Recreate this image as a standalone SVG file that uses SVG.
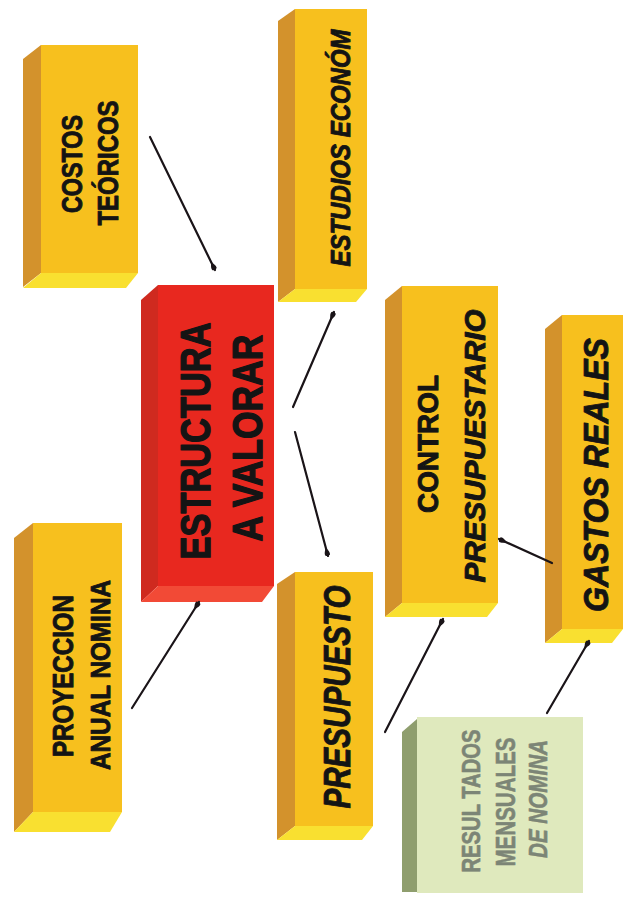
<svg xmlns="http://www.w3.org/2000/svg" width="635" height="904" viewBox="0 0 635 904">
  <defs>
    <style>
      .front-y { fill: #f7c01e; }
      .side-y { fill: #d3922c; }
      .base-y { fill: #f9e030; }
      .front-r { fill: #e8281f; }
      .side-r { fill: #cf2a1f; }
      .base-r { fill: #f24a36; }
      .front-g { fill: #dfe9bd; }
      .side-g { fill: #8f9e6e; }
      .lbl { font-family: "Liberation Sans", Arial, sans-serif; font-weight: bold; fill: #141414; stroke: #141414; stroke-width: 0.9; stroke-linejoin: round; text-anchor: middle; }
      .big { stroke-width: 1.3; }
      .it { font-style: italic; }
      .lbl-g { fill: #7c8576; stroke: #7c8576; stroke-width: 0.6; }
      .link { stroke: #1a1418; stroke-width: 2.2; fill: none; stroke-linecap: round; marker-end: url(#head); }
    </style>
    <marker id="head" viewBox="0 0 10 8" refX="9.5" refY="4" markerWidth="4.5" markerHeight="3.6" orient="auto" markerUnits="strokeWidth">
      <path d="M0,4 C3,3.2 5.5,0.6 8.5,1.6 Q10.3,4 8.5,6.4 C5.5,7.4 3,4.8 0,4 z" fill="#1a1418"/>
    </marker>
  </defs>

  <rect width="635" height="904" fill="#ffffff"/>

  <!-- COSTOS TEÓRICOS -->
  <g id="costos-teoricos">
    <polygon class="side-y" points="41,45 23,59 23,287 41,273"/>
    <polygon class="base-y" points="41,273 138,273 126,288 23,288"/>
    <rect class="front-y" x="41" y="45" width="97" height="228"/>
    <text class="lbl" font-size="30" textLength="98" lengthAdjust="spacingAndGlyphs" transform="translate(82,164) rotate(-90)">COSTOS</text>
    <text class="lbl" font-size="30" textLength="125" lengthAdjust="spacingAndGlyphs" transform="translate(118,163) rotate(-90)">TEÓRICOS</text>
  </g>

  <!-- ESTRUCTURA A VALORAR -->
  <g id="estructura-a-valorar">
    <polygon class="side-r" points="158,285 141,300 141,602 158,586"/>
    <polygon class="base-r" points="158,586 274,586 262,602 141,602"/>
    <rect class="front-r" x="158" y="285" width="116" height="301"/>
    <text class="lbl big" font-size="42" textLength="237" lengthAdjust="spacingAndGlyphs" transform="translate(210,441) rotate(-90)">ESTRUCTURA</text>
    <text class="lbl big" font-size="42" textLength="207" lengthAdjust="spacingAndGlyphs" transform="translate(262,438) rotate(-90)">A VALORAR</text>
  </g>

  <!-- ESTUDIOS ECONÓM -->
  <g id="estudios-econom">
    <polygon class="side-y" points="295,9 278,21 278,302 295,289"/>
    <polygon class="base-y" points="295,289 367,289 356,302 278,302"/>
    <rect class="front-y" x="295" y="9" width="72" height="280"/>
    <text class="lbl it" font-size="28" textLength="237" lengthAdjust="spacingAndGlyphs" transform="translate(350,148) rotate(-90)">ESTUDIOS ECONÓM</text>
  </g>

  <!-- CONTROL PRESUPUESTARIO -->
  <g id="control-presupuestario">
    <polygon class="side-y" points="402,286 385,300 385,617 402,603"/>
    <polygon class="base-y" points="402,603 498,603 487,617 385,617"/>
    <rect class="front-y" x="402" y="286" width="96" height="317"/>
    <text class="lbl" font-size="29" textLength="138" lengthAdjust="spacingAndGlyphs" transform="translate(438,444) rotate(-90)">CONTROL</text>
    <text class="lbl it" font-size="30" textLength="273" lengthAdjust="spacingAndGlyphs" transform="translate(485,446) rotate(-90)">PRESUPUESTARIO</text>
  </g>

  <!-- GASTOS REALES -->
  <g id="gastos-reales">
    <polygon class="side-y" points="562,315 545,329 545,643 562,629"/>
    <polygon class="base-y" points="562,629 623,629 612,643 545,643"/>
    <rect class="front-y" x="562" y="315" width="61" height="314"/>
    <text class="lbl it" font-size="35" textLength="274" lengthAdjust="spacingAndGlyphs" transform="translate(608,475) rotate(-90)">GASTOS REALES</text>
  </g>

  <!-- PROYECCION ANUAL NOMINA -->
  <g id="proyeccion-anual-nomina">
    <polygon class="side-y" points="33,523 14,538 14,832 33,812"/>
    <polygon class="base-y" points="33,812 122,812 110,832 14,832"/>
    <rect class="front-y" x="33" y="523" width="89" height="289"/>
    <text class="lbl" font-size="29" textLength="162" lengthAdjust="spacingAndGlyphs" transform="translate(73,676) rotate(-90)">PROYECCION</text>
    <text class="lbl" font-size="28" textLength="190" lengthAdjust="spacingAndGlyphs" transform="translate(110,675) rotate(-90)">ANUAL NOMINA</text>
  </g>

  <!-- PRESUPUESTO -->
  <g id="presupuesto">
    <polygon class="side-y" points="295,572 277,584 277,840 295,826"/>
    <polygon class="base-y" points="295,826 373,826 362,840 277,840"/>
    <rect class="front-y" x="295" y="572" width="78" height="254"/>
    <text class="lbl it" font-size="37" textLength="223" lengthAdjust="spacingAndGlyphs" transform="translate(350,697) rotate(-90)">PRESUPUESTO</text>
  </g>

  <!-- RESULTADOS MENSUALES DE NOMINA -->
  <g id="resultados-mensuales">
    <polygon class="side-g" points="417,719 402,732 402,892 417,892"/>
    <rect class="front-g" x="417" y="717" width="166" height="176"/>
    <text class="lbl lbl-g" font-size="25" textLength="143" lengthAdjust="spacingAndGlyphs" transform="translate(480,801) rotate(-90)">RESUL TADOS</text>
    <text class="lbl lbl-g" font-size="27" textLength="129" lengthAdjust="spacingAndGlyphs" transform="translate(515,802) rotate(-90)">MENSUALES</text>
    <text class="lbl lbl-g it" font-size="26" textLength="118" lengthAdjust="spacingAndGlyphs" transform="translate(547,799) rotate(-90)">DE NOMINA</text>
  </g>

  <!-- connectors -->
  <g id="connectors">
    <line class="link" x1="150" y1="137" x2="215" y2="270"/>
    <line class="link" x1="293" y1="407" x2="334" y2="312"/>
    <line class="link" x1="295" y1="432" x2="328" y2="556"/>
    <line class="link" x1="132" y1="708" x2="199" y2="602"/>
    <line class="link" x1="385" y1="732" x2="443" y2="619"/>
    <line class="link" x1="552" y1="563" x2="499" y2="539"/>
    <line class="link" x1="547" y1="713" x2="589" y2="641"/>
  </g>
</svg>
